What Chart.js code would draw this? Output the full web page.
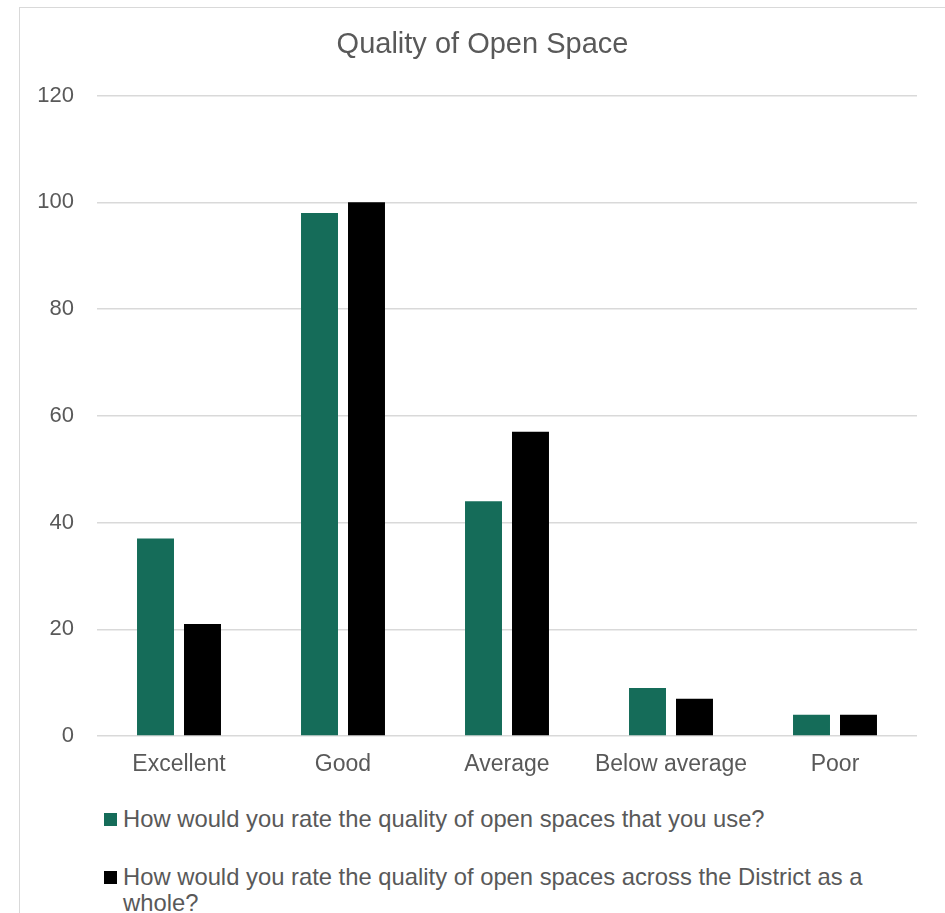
<!DOCTYPE html>
<html>
<head>
<meta charset="utf-8">
<script src="https://cdn.jsdelivr.net/npm/chart.js@4/dist/chart.umd.min.js"></script>
<style>
  html, body { margin: 0; padding: 0; background: #ffffff; overflow: hidden; width: 945px; height: 913px; }
  #frame { position: absolute; left: 19px; top: 7px; width: 960px; height: 960px; border: 1px solid #d9d9d9; background: #fff; }
  #wrap { position: absolute; left: 0; top: 0; width: 925px; height: 780px; }
  #legend { position: absolute; left: 84px; top: 798px; width: 810px; font-family: "Liberation Sans", Arial, sans-serif; font-size: 23.8px; line-height: 26px; color: #595959; }
  .item { position: relative; padding-left: 19px; }
  .item + .item { margin-top: 32px; }
  .swatch { position: absolute; left: 0; top: 6.5px; width: 13px; height: 13px; }
</style>
</head>
<body>
<div id="frame">
  <div id="wrap"><canvas id="chart" width="925" height="780"></canvas></div>
  <div id="legend"></div>
</div>
<script>
const categories = ["Excellent", "Good", "Average", "Below average", "Poor"];
const seriesNames = [
  "How would you rate the quality of open spaces that you use?",
  "How would you rate the quality of open spaces across the District as a whole?"
];
const usedSpaces = [37, 98, 44, 9, 4];
const districtSpaces = [21, 100, 57, 7, 4];
const seriesColors = ["#156C59", "#000000"];
const chartTitle = "Quality of Open Space";

const FONT = '"Liberation Sans", Arial, sans-serif';
const TEXT = "#595959";

// Builds the legend as HTML so long series names can wrap onto a second line
const htmlLegend = {
  id: "htmlLegend",
  afterUpdate(chart) {
    const box = document.getElementById("legend");
    box.innerHTML = "";
    const items = chart.options.plugins.legend.labels.generateLabels(chart);
    items.forEach(it => {
      const row = document.createElement("div");
      row.className = "item";
      const sw = document.createElement("span");
      sw.className = "swatch";
      sw.style.background = it.fillStyle;
      const txt = document.createElement("span");
      txt.textContent = it.text;
      row.appendChild(sw);
      row.appendChild(txt);
      box.appendChild(row);
    });
  }
};

new Chart(document.getElementById("chart"), {
  type: "bar",
  data: {
    labels: categories,
    datasets: [
      { label: seriesNames[0], data: usedSpaces, backgroundColor: seriesColors[0] },
      { label: seriesNames[1], data: districtSpaces, backgroundColor: seriesColors[1] }
    ]
  },
  options: {
    responsive: false,
    animation: false,
    events: [],
    categoryPercentage: 0.573,
    barPercentage: 0.787,
    layout: { padding: 0 },
    plugins: {
      legend: { display: false },
      tooltip: { enabled: false },
      title: {
        display: true,
        text: chartTitle,
        color: TEXT,
        font: { family: FONT, size: 29, weight: "normal", lineHeight: 1.2 },
        padding: { top: 19.5, bottom: 33.3 }
      }
    },
    scales: {
      x: {
        grid: { display: false, drawTicks: false },
        border: { display: false },
        ticks: { color: TEXT, font: { family: FONT, size: 23 }, padding: 15, maxRotation: 0, autoSkip: false },
        afterFit(scale) { scale.height = 52; }
      },
      y: {
        min: 0,
        max: 120,
        ticks: { stepSize: 20, color: TEXT, font: { family: FONT, size: 22 }, padding: 23 },
        grid: { color: "#d9d9d9", lineWidth: 1.5, drawTicks: false },
        border: { display: false },
        afterFit(scale) { scale.width = 77; }
      },
      // empty right-hand margin beside the plot
      yRight: {
        position: "right",
        display: true,
        ticks: { display: false },
        grid: { display: false, drawTicks: false },
        border: { display: false },
        afterFit(scale) { scale.width = 28; }
      }
    }
  },
  plugins: [htmlLegend]
});
</script>
</body>
</html>
